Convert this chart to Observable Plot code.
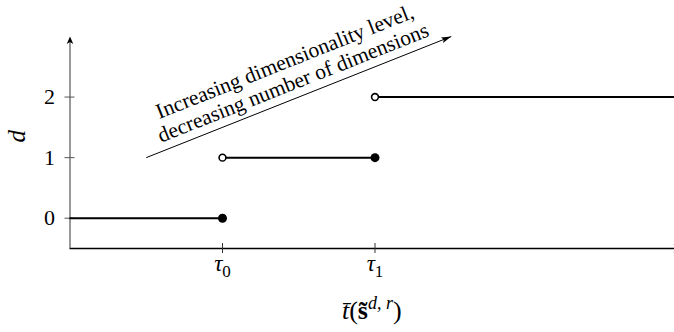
<!DOCTYPE html>
<html><head><meta charset="utf-8">
<script src="https://cdn.jsdelivr.net/npm/d3@7"></script>
<script src="https://cdn.jsdelivr.net/npm/@observablehq/plot@0.6"></script>
<style>
html, body { margin: 0; padding: 0; background: #fff; overflow: hidden; }
#xtitle {
  box-sizing: border-box; width: 674px; height: 42px; padding-left: 69.5px;
  text-align: center; line-height: 42px; white-space: nowrap;
  font-family: "Liberation Serif", "DejaVu Serif", serif; font-size: 26px; color: #000;
}
#xtitle .sup { font-size: 18px; position: relative; top: -10px; }
</style>
</head><body><div id="chart"></div><div id="xtitle"></div>
<script>
// Dimensionality level d held on each interval of t̄ (τ0 = 1, τ1 = 2 in axis units)
const levels = [0, 1, 2];
const levelFrom = [0, 1, 2];
const levelTo = [1, 2, 3.964];
// Thresholds on the horizontal axis
const tauValues = [1, 2];
const tauSubscripts = ["0", "1"];
// Axis extents
const xDomain = [0, 3.964];
const yDomain = [-0.5, 3];
// Annotation arrow and its two-line caption
const arrowFrom = [0.5, 1];
const arrowTo = [2.5, 3];
const captionLines = ["Increasing dimensionality level,", "decreasing number of dimensions"];
// Axis titles
const yTitle = "d";
const xTitleParts = [
  {text: "t\u0304", italic: true},
  {text: "("},
  {text: "s\u0303", bold: true},
  {text: "d, r", italic: true, sup: true},
  {text: ")"}
];

const W = 674, H = 290;
const M = {left: 69.5, right: 0, top: 36, bottom: 42};
const FONT = "Liberation Serif, DejaVu Serif, serif";

const segs = levels.map((d, i) => ({d, x1: levelFrom[i], x2: levelTo[i]}));
const closedEnds = segs.filter(s => s.x2 < xDomain[1]).map(s => ({x: s.x2, d: s.d}));
const openStarts = segs.filter(s => s.x1 > xDomain[0]).map(s => ({x: s.x1, d: s.d}));

// Stealth-style arrowhead with its tip at the origin, pointing up
const arrowHead = (len, half, notch) => ({
  draw(ctx) {
    ctx.moveTo(0, 0);
    ctx.lineTo(half, len);
    ctx.lineTo(0, notch);
    ctx.lineTo(-half, len);
    ctx.closePath();
  }
});

// On-screen slope of the annotation arrow, from the linear scales' domain and range
function toPx(v, domain, range) {
  return range[0] + (v - domain[0]) / (domain[1] - domain[0]) * (range[1] - range[0]);
}
const xRange = [M.left, W - M.right];
const yRange = [H - M.bottom, M.top];
const angle = Math.atan2(
  toPx(arrowFrom[1], yDomain, yRange) - toPx(arrowTo[1], yDomain, yRange),
  toPx(arrowTo[0], xDomain, xRange) - toPx(arrowFrom[0], xDomain, xRange)
) * 180 / Math.PI;
const rad = angle * Math.PI / 180;
const captionOffset = 27; // perpendicular to the arrow

const chart = Plot.plot({
  width: W, height: H,
  marginLeft: M.left, marginRight: M.right, marginTop: M.top, marginBottom: M.bottom,
  x: {domain: xDomain, range: xRange},
  y: {domain: yDomain, range: yRange},
  style: {fontFamily: FONT, fontSize: "22px", color: "black", background: "white"},
  marks: [
    Plot.axisX({ticks: tauValues, tickSize: 0, tickPadding: 6, label: null, fontSize: 23,
      tickFormat: d => "τ" + tauSubscripts[tauValues.indexOf(d)]}),
    Plot.axisY({ticks: levels, tickSize: 0, tickPadding: 15, label: null, fontSize: 22,
      tickFormat: d => String(d)}),
    // axis lines
    Plot.ruleY([yDomain[0]], {stroke: "black", strokeWidth: 1.3}),
    Plot.ruleX([xDomain[0]], {y1: yDomain[0], y2: yDomain[1] - 0.05, stroke: "#777", strokeWidth: 1.5}),
    // tick marks crossing the axes
    Plot.ruleY(levels, {x1: xDomain[0], x2: xDomain[0], insetLeft: -5, insetRight: -5, stroke: "#555", strokeWidth: 1}),
    Plot.ruleX(tauValues, {y1: yDomain[0], y2: yDomain[0], insetTop: -5, insetBottom: -5, stroke: "#333", strokeWidth: 1}),
    // axis arrowheads
    Plot.dot([[xDomain[0], yDomain[1]]], {x: d => d[0], y: d => d[1], symbol: arrowHead(7.5, 3.3, 5.5), fill: "black", stroke: "none"}),
    Plot.dot([[4.01, yDomain[0]]], {x: d => d[0], y: d => d[1], symbol: arrowHead(8, 4, 6), rotate: 90, fill: "black", stroke: "none"}),
    // step function
    Plot.ruleY(segs, {y: "d", x1: "x1", x2: "x2", stroke: "black", strokeWidth: 2}),
    Plot.dot(closedEnds, {x: "x", y: "d", r: 4.5, fill: "black", stroke: "none"}),
    Plot.dot(openStarts, {x: "x", y: "d", r: 3.4, fill: "white", stroke: "black", strokeWidth: 1.6}),
    // annotation arrow
    Plot.link([0], {x1: arrowFrom[0], y1: arrowFrom[1], x2: arrowTo[0], y2: arrowTo[1], stroke: "black", strokeWidth: 1}),
    Plot.dot([arrowTo], {x: d => d[0], y: d => d[1], symbol: arrowHead(10, 3, 8), rotate: 90 - angle, fill: "black", stroke: "none"}),
    Plot.text([captionLines.join("\n")], {
      x: (arrowFrom[0] + arrowTo[0]) / 2, y: (arrowFrom[1] + arrowTo[1]) / 2,
      rotate: -angle, dx: -captionOffset * Math.sin(rad), dy: -captionOffset * Math.cos(rad),
      lineAnchor: "middle", lineHeight: 1.05, fontSize: 21.5, fill: "black"
    }),
    // vertical axis title
    Plot.text([yTitle], {frameAnchor: "left", dx: -53, rotate: -90, fontStyle: "italic", fontSize: 25, fill: "black"})
  ]
});
document.getElementById("chart").append(chart);

const svg = d3.select(chart);

// Carry the turn of the caption and the vertical title on a wrapping group
svg.selectAll("text").each(function () {
  const tc = this.textContent;
  let r = null;
  if (tc.startsWith(captionLines[0])) r = -angle;
  else if (tc === yTitle) r = -90;
  if (r === null) return;
  const tr = (this.getAttribute("transform") || "").replace(/rotate\([^)]*\)/, "").trim();
  const g = document.createElementNS("http://www.w3.org/2000/svg", "g");
  g.setAttribute("transform", `${tr} rotate(${r})`);
  this.parentNode.insertBefore(g, this);
  this.removeAttribute("transform");
  g.appendChild(this);
});

// τ tick labels with subscripts
svg.selectAll('g[aria-label="x-axis tick label"] text').each(function () {
  const s = this.textContent;
  const t = d3.select(this);
  t.text(null);
  t.append("tspan").attr("font-style", "italic").text(s[0]);
  t.append("tspan").attr("font-size", 17).attr("dy", 6).text(s.slice(1));
});

// horizontal axis title below the plot, with bar, tilde and superscript
const xt = d3.select("#xtitle");
for (const p of xTitleParts) {
  const span = xt.append("span").text(p.text);
  if (p.italic) span.style("font-style", "italic");
  if (p.bold) span.style("font-weight", "bold");
  if (p.sup) span.attr("class", "sup");
}
</script>
</body></html>
